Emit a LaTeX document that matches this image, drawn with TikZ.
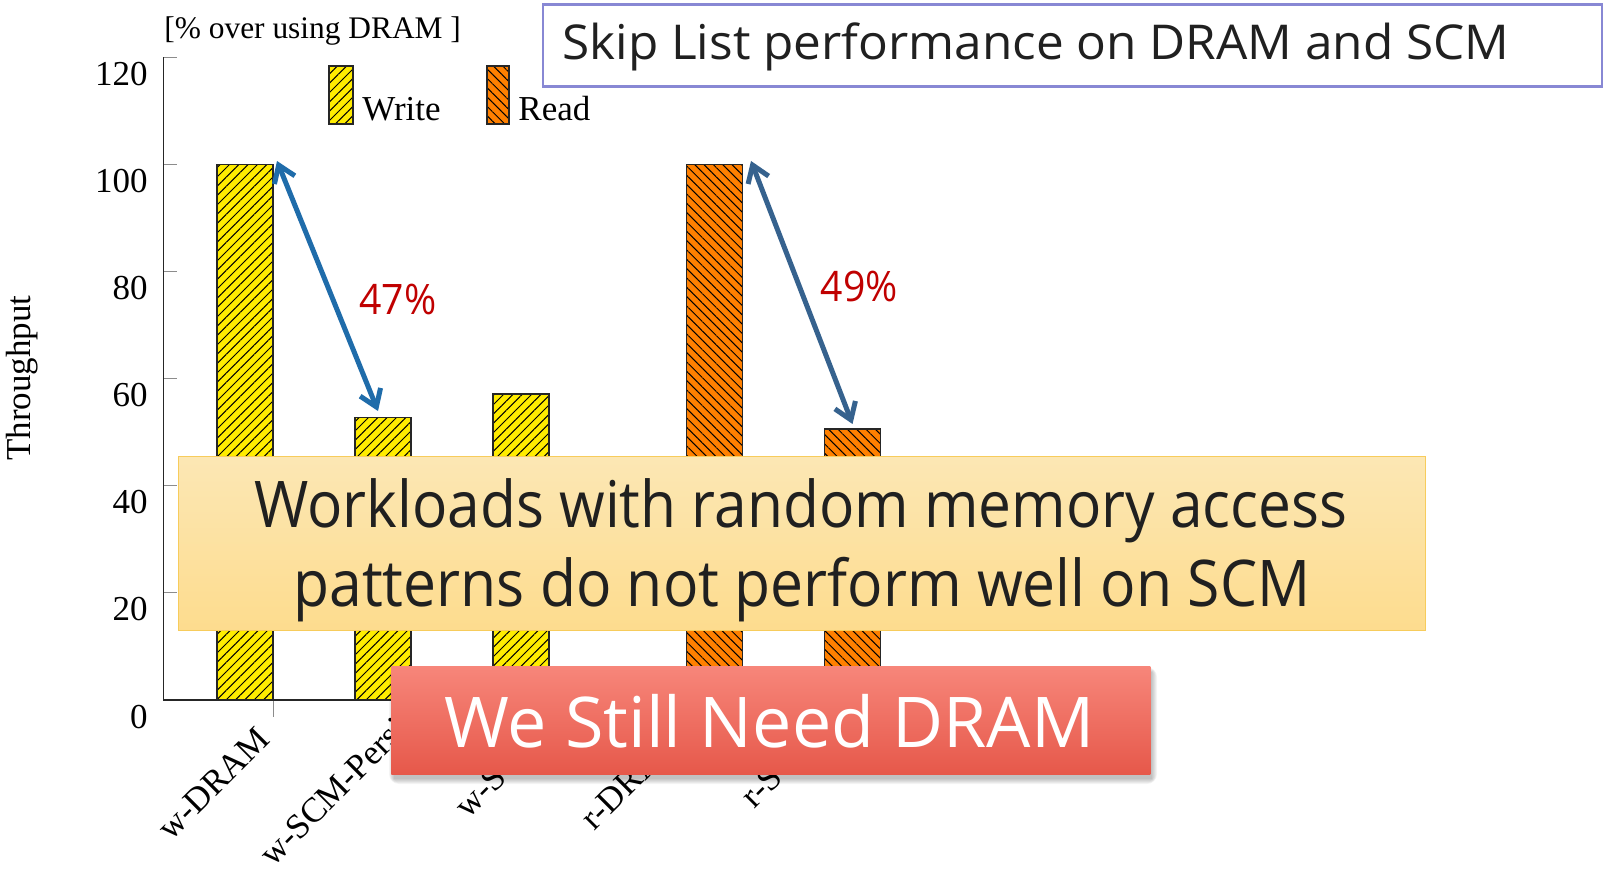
\documentclass[tikz,border=0pt]{standalone}
\usepackage{fontspec}
\usepackage{graphicx}
\setmainfont{Liberation Serif}
\newfontfamily\uifont{Open Sans}
\usetikzlibrary{patterns.meta,arrows.meta}

\definecolor{wbar}{RGB}{255,236,0}
\definecolor{rbar}{RGB}{255,128,0}
\definecolor{titleframe}{RGB}{136,136,212}
\definecolor{arrowA}{RGB}{31,108,170}
\definecolor{arrowB}{RGB}{54,98,142}
\definecolor{pct}{RGB}{192,0,0}
\definecolor{noteTop}{RGB}{252,231,180}
\definecolor{noteBot}{RGB}{253,220,142}
\definecolor{noteFrame}{RGB}{247,204,92}
\definecolor{alertTop}{RGB}{247,134,122}
\definecolor{alertMid}{RGB}{249,108,94}
\definecolor{alertBot}{RGB}{230,88,74}
\definecolor{inkdark}{RGB}{32,32,32}

% sans text set at a given size and stretched to a given width
\newcommand{\fitto}[3]{\resizebox{#1}{\height}{\uifont\fontsize{#2}{#2}\selectfont #3}}

\begin{document}
\begin{tikzpicture}[x=0.5pt,y=-0.5pt,
  chartfont/.style={font=\fontsize{17.5}{20}\selectfont},
  axisline/.style={draw=black!85,line width=0.65pt},
  tickmark/.style={draw=black!45,line width=0.5pt},
  writebar/.style={draw=black!85,line width=0.7pt,preaction={fill=wbar},
    pattern={Lines[angle=45,distance=3.3pt,line width=0.5pt]},pattern color=black},
  readbar/.style={draw=black!85,line width=0.7pt,preaction={fill=rbar},
    pattern={Lines[angle=-45,distance=3.3pt,line width=0.5pt]},pattern color=black},
  gap/.style={line width=2.5pt,line cap=round,
    {Straight Barb[length=8pt,width=11pt]}-{Straight Barb[length=8pt,width=11pt]}},
  pctlabel/.style={inner sep=0pt,anchor=base west,text=pct},
  xlabel/.style={chartfont,inner sep=0pt,anchor=base east,rotate=45}
]
\useasboundingbox (0,0) rectangle (1604,870);
\fill[white] (0,0) rectangle (1604,870);

% ---------- bar chart ----------
\node[chartfont,font=\fontsize{15.7}{18}\selectfont,inner sep=0pt,anchor=base west] (unit) at (164,39) {[\% over using DRAM ]};
\node[chartfont,inner sep=0pt,anchor=base,rotate=90] (ylab) at (31,378) {Throughput};

\foreach \v in {0,20,...,120}{
  \draw[tickmark] (163.5,{700-5.355*\v}) -- (176.5,{700-5.355*\v});
  \node[chartfont,inner sep=0pt,anchor=base east] (tick\v) at (148,{728-5.355*\v}) {\v};
}
\foreach \k in {0,...,4}{
  \draw[tickmark] ({273+138*\k},700) -- ({273+138*\k},717);
}
\draw[axisline] (163.5,57.4) -- (163.5,700) -- (960,700);

% write bars
\draw[writebar] (217,700) rectangle (273,164.5);
\draw[writebar] (355,700) rectangle (411,417.5);
\draw[writebar] (493,700) rectangle (549,394);
% read bars
\draw[readbar] (686.5,700) rectangle (742.5,164.5);
\draw[readbar] (824.5,700) rectangle (880.5,429);

% category labels
\node[xlabel] (c1) at (272,741) {w-DRAM};
\node[chartfont,inner sep=0pt,anchor=base west,rotate=45] (c2) at (273,868) {w-SCM-Persist};
\node[xlabel] (c3) at (547.5,741) {w-SCM};
\node[xlabel] (c4) at (685.5,741) {r-DRAM};
\node[xlabel] (c5) at (823.5,741) {r-SCM};

% legend
\draw[writebar] (329,66) rectangle (353,124);
\node[chartfont,inner sep=0pt,anchor=base west] (lw) at (362,120.5) {Write};
\draw[readbar] (487,66) rectangle (509,124);
\node[chartfont,inner sep=0pt,anchor=base west] (lr) at (518,120.5) {Read};

% ---------- drops between DRAM and SCM ----------
\coordinate (wtop) at (277,161);
\coordinate (wlow) at (378,411);
\coordinate (rtop) at (751,161);
\coordinate (rlow) at (852.5,424);
\draw[gap,arrowA] (wtop) -- (wlow);
\draw[gap,arrowB] (rtop) -- (rlow);
\node[pctlabel] (p47) at (359,315) {\fitto{38.5pt}{21pt}{47\%}};
\node[pctlabel] (p49) at (820.5,301.5) {\fitto{38.5pt}{21pt}{49\%}};

% ---------- title ----------
\node[draw=titleframe,line width=1.3pt,fill=white,minimum width=529.5pt,minimum height=40.8pt,
  inner sep=0pt,anchor=north west] (titlebox) at (541.5,3.5) {};
\node[inner sep=0pt,anchor=base west,text=inkdark] (title) at (562,60) {\fitto{473.5pt}{24pt}{Skip List performance on DRAM and SCM}};

% ---------- remark ----------
\node[draw=noteFrame,line width=0.5pt,top color=noteTop,bottom color=noteBot,
  minimum width=623.5pt,minimum height=87pt,inner sep=0pt,anchor=north west] (note) at (178,456) {};
\node[inner sep=0pt,anchor=base west,text=inkdark] (noteA) at (254,528) {\fitto{546.5pt}{32.2pt}{Workloads with random memory access}};
\node[inner sep=0pt,anchor=base west,text=inkdark] (noteB) at (293,607) {\fitto{508.5pt}{32.2pt}{patterns do not perform well on SCM}};

% ---------- conclusion ----------
\foreach \s in {0,1,...,5}{
  \fill[black,opacity=0.045,rounded corners=\s pt] ({394-\s},{672-\s}) rectangle ({1152+\s},{779+\s});
}
\node[top color=alertTop,middle color=alertMid,bottom color=alertBot,
  minimum width=379.5pt,minimum height=54pt,inner sep=0pt,anchor=north west] (alert) at (391,666) {};
\node[inner sep=0pt,anchor=base west,text=white] (alertText) at (444,747) {\fitto{325pt}{35pt}{We Still Need DRAM}};
\end{tikzpicture}
\end{document}
